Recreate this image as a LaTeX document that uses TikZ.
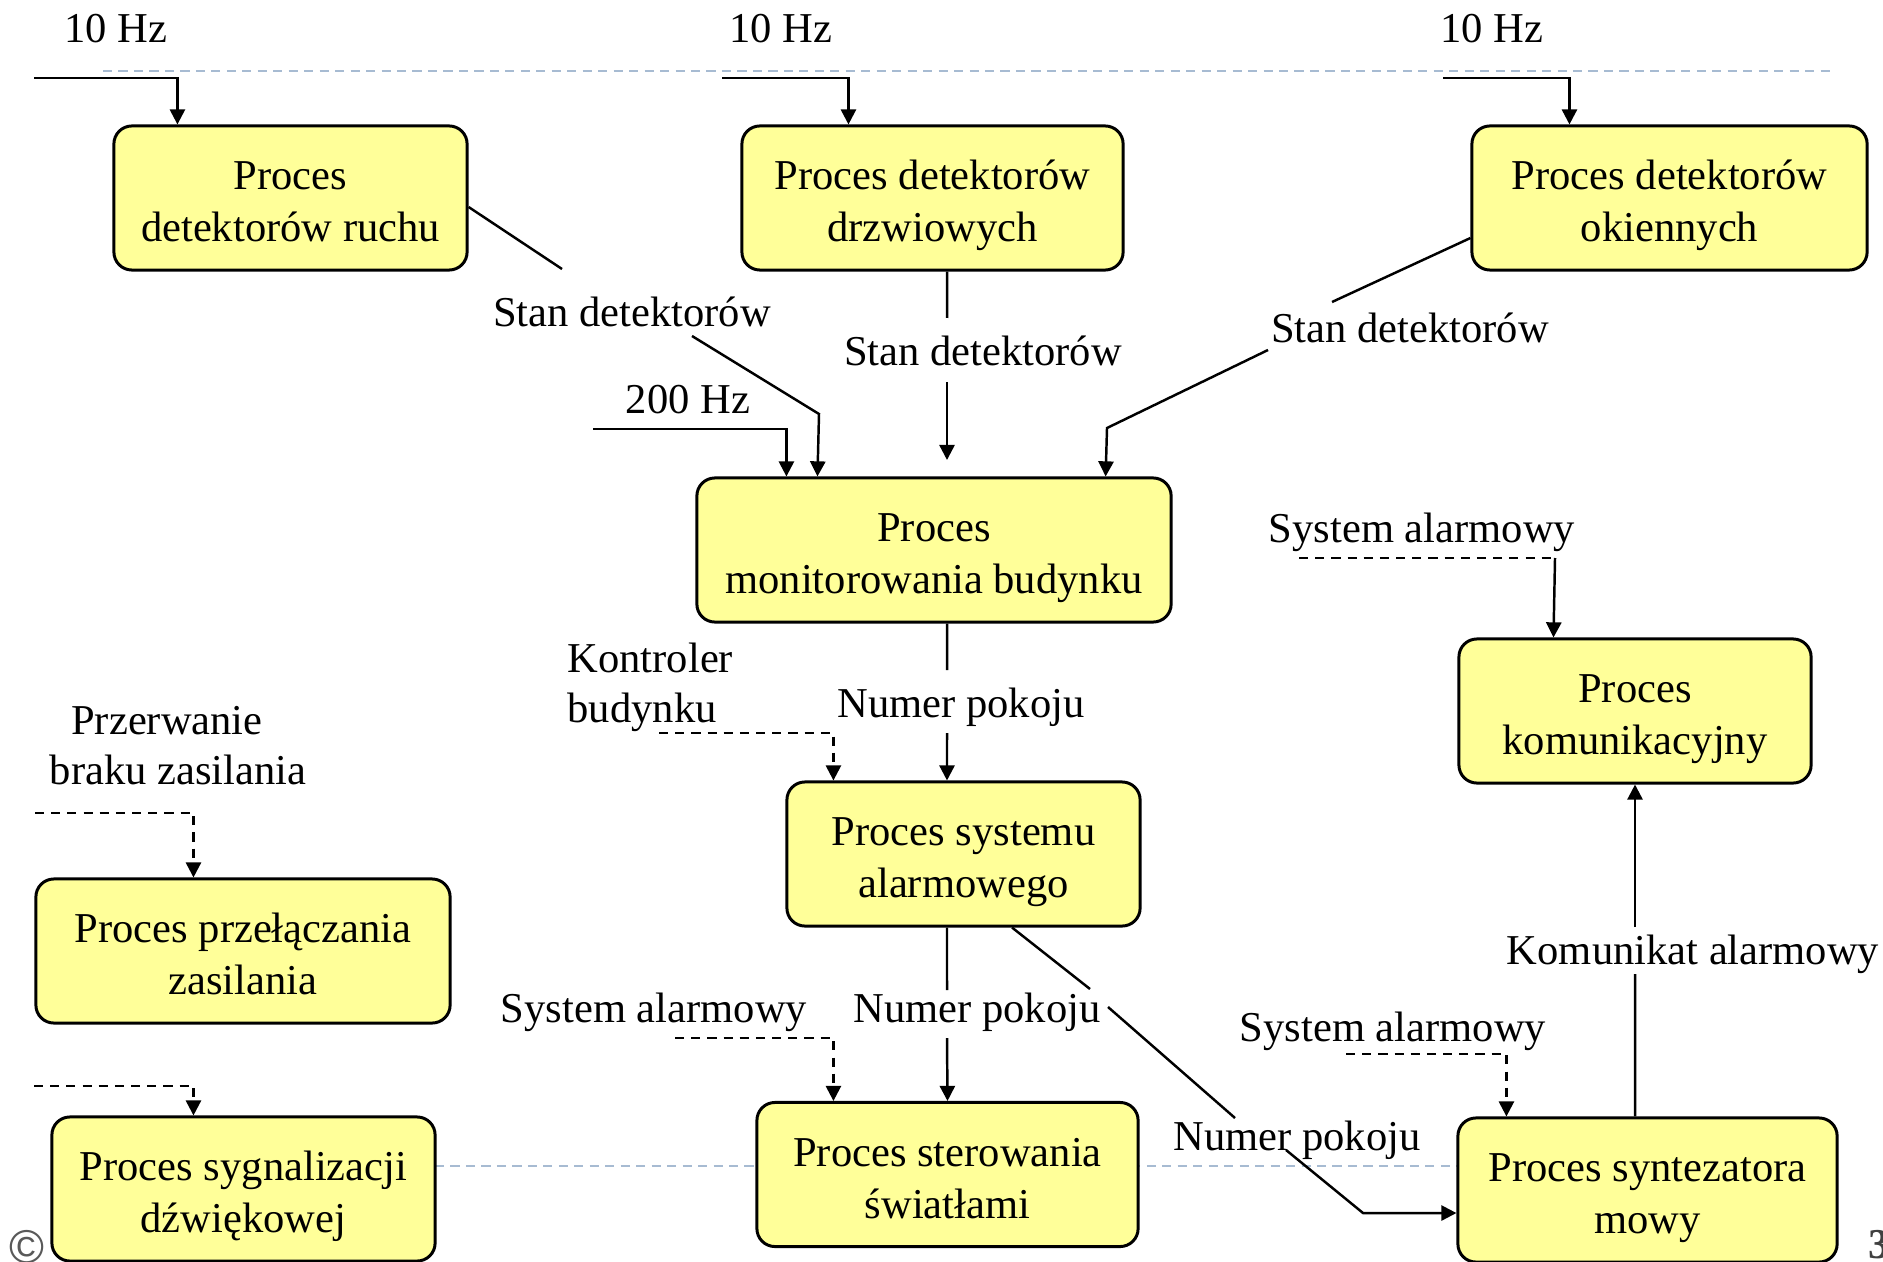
\documentclass[tikz,border=0pt]{standalone}
\usepackage{fontspec}
\setmainfont{Liberation Serif}
\newfontfamily\markfont{Liberation Sans}
\usetikzlibrary{arrows.meta}
\definecolor{procfill}{HTML}{FFFF99}
\definecolor{sepline}{HTML}{A7BBD2}
\begin{document}
\begin{tikzpicture}[x=0.01cm,y=-0.01cm,
  font=\fontsize{12.1}{14.7}\selectfont,
  proc/.style={draw=black, line width=0.85pt, fill=procfill, rounded corners=0.18cm,
    align=center, inner sep=0pt, minimum height=1.44cm,
    execute at begin node={\rule{0pt}{27.8pt}},
    execute at end node={\rule[-3pt]{0pt}{3pt}}},
  tip/.style={-{Triangle[length=4.3pt,width=4.3pt]}},
  plain/.style={line width=0.7pt},
  flow/.style={plain, tip},
  ctrl/.style={line width=0.7pt, dash pattern=on 2.6pt off 2pt},
  ctrlflow/.style={ctrl, tip},
  sep/.style={draw=sepline, line width=0.7pt, dash pattern=on 2.6pt off 1.8pt},
  lbl/.style={inner sep=0pt, anchor=base}]

\useasboundingbox (0,0) rectangle (1883,1261);

% light separators between the rate groups
\draw[sep] (103,71) -- (1831,71);
\draw[sep] (435,1166) -- (1458,1166);

% processes
\node[proc, minimum width=3.53cm] (ruch)    at (290.5,198)  {Proces\\detektorów ruchu};
\node[proc, minimum width=3.81cm] (drzwi)   at (932.5,198)  {Proces detektorów\\drzwiowych};
\node[proc, minimum width=3.95cm] (okna)    at (1669.5,198) {Proces detektorów\\okiennych};
\node[proc, minimum width=4.74cm] (monitor) at (934,550)    {Proces\\monitorowania budynku};
\node[proc, minimum width=3.52cm] (komunik) at (1635,711)   {Proces\\komunikacyjny};
\node[proc, minimum width=3.53cm] (alarm)   at (963.5,854)  {Proces systemu\\alarmowego};
\node[proc, minimum width=4.14cm] (zasil)   at (243,951)    {Proces przełączania\\zasilania};
\node[proc, minimum width=3.83cm] (dzwiek)  at (243.5,1189) {Proces sygnalizacji\\dźwiękowej};
\node[proc, minimum width=3.81cm] (swiatla) at (947.5,1174.5) {Proces sterowania\\światłami};
\node[proc, minimum width=3.79cm] (mowa)    at (1647.5,1190) {Proces syntezatora\\mowy};

% 10 Hz triggers
\coordinate (hzA) at (34,78);
\coordinate (hzB) at (722,78);
\coordinate (hzC) at (1443,78);
\draw[flow] (hzA) -| ([xshift=0.65cm]ruch.north west);
\draw[flow] (hzB) -| ([xshift=1.08cm]drzwi.north west);
\draw[flow] (hzC) -| ([xshift=0.99cm]okna.north west);
\node[lbl] (lhzA) at (116,43) {10 Hz};
\node[lbl] (lhzB) at (781,43) {10 Hz};
\node[lbl] (lhzC) at (1492,43) {10 Hz};

% 200 Hz trigger
\coordinate (hz200) at (593,429);
\draw[flow] (hz200) -| ([xshift=0.91cm]monitor.north west);
\node[lbl] (lhz200) at (688,413) {200 Hz};

% detector states into the monitor
\coordinate (r1) at (562,269);
\coordinate (r2) at (692,336);
\coordinate (r3) at (819,414);
\draw[plain] ([yshift=-0.09cm]ruch.east) -- (r1);
\draw[flow] (r2) -- (r3) -- ([xshift=1.22cm]monitor.north west);
\node[lbl] (lstA) at (632,327) {Stan detektorów};

\coordinate (d1) at (947,318);
\coordinate (d2) at (947,382);
\coordinate (d3) at (947,460);
\draw[plain] ([xshift=0.145cm]drzwi.south) -- (d1);
\draw[flow] (d2) -- (d3);
\node[lbl] (lstB) at (983,366) {Stan detektorów};

\coordinate (o1) at (1332,302);
\coordinate (o2) at (1268,350);
\coordinate (o3) at (1107,428);
\draw[plain] ([yshift=-0.4cm]okna.west) -- (o1);
\draw[flow] (o2) -- (o3) -- ([xshift=4.1cm]monitor.north west);
\node[lbl] (lstC) at (1410,342) {Stan detektorów};

% monitor -> alarm system
\coordinate (m1) at (947,670);
\coordinate (m2) at (947,733);
\draw[plain] ([xshift=0.13cm]monitor.south) -- (m1);
\draw[flow] (m2) -- ([xshift=-0.165cm]alarm.north);
\node[lbl] (lnpA) at (961,717) {Numer pokoju};

\coordinate (k1) at (659,733);
\draw[ctrlflow] (k1) -| ([xshift=0.48cm]alarm.north west);
\node[lbl, anchor=base west] (lkA) at (567,672) {Kontroler};
\node[lbl, anchor=base west] (lkB) at (567,722) {budynku};

% alarm system -> lights
\coordinate (a1) at (947,990);
\coordinate (a2) at (947,1038);
\draw[plain] ([xshift=-0.165cm]alarm.south) -- (a1);
\draw[flow] (a2) -- (swiatla.north);
\node[lbl] (lnpB) at (977,1022) {Numer pokoju};

\coordinate (sa1) at (675,1038);
\draw[ctrlflow] (sa1) -| ([xshift=0.78cm]swiatla.north west);
\node[lbl] (lsaA) at (654,1022) {System alarmowy};

% alarm system -> speech synthesiser
\coordinate (n1) at (1090,989);
\coordinate (n2) at (1108,1007);
\coordinate (n3) at (1235,1118);
\coordinate (n4) at (1286,1150);
\coordinate (n5) at (1363,1213);
\draw[plain] ([xshift=0.485cm]alarm.south) -- (n1);
\draw[plain] (n2) -- (n3);
\draw[flow] (n4) -- (n5) -- ([yshift=-0.23cm]mowa.west);
\node[lbl] (lnpC) at (1297,1150) {Numer pokoju};

\coordinate (sa2) at (1346,1054);
\draw[ctrlflow] (sa2) -| ([xshift=0.5cm]mowa.north west);
\node[lbl] (lsaB) at (1393,1041) {System alarmowy};

% speech synthesiser -> communication
\coordinate (c1) at (1635,974);
\coordinate (c2) at (1635,927);
\draw[plain] ([xshift=-0.125cm]mowa.north) -- (c1);
\draw[flow] (c2) -- (komunik.south);
\node[lbl] (lka) at (1693,964) {Komunikat alarmowy};

\coordinate (sa3) at (1299,558);
\coordinate (sa3c) at (1555,558);
\draw[ctrl] (sa3) -- (sa3c);
\draw[flow] (sa3c) -- ([xshift=0.96cm]komunik.north west);
\node[lbl] (lsaC) at (1422,542) {System alarmowy};

% power handling and sound signalling
\coordinate (p1) at (35,813);
\draw[ctrlflow] (p1) -| ([xshift=1.59cm]zasil.north west);
\node[lbl] (lpA) at (167,734) {Przerwanie};
\node[lbl] (lpB) at (178,784) {braku zasilania};

\coordinate (g1) at (34,1086);
\draw[ctrlflow] (g1) -| ([xshift=1.43cm]dzwiek.north west);

% footer marks
\node[lbl, anchor=base west, text=black!65, font=\fontsize{13.5}{16}\selectfont] (copy) at (9,1263) {\markfont ©};
\node[lbl, anchor=base west, text=black!75] (page) at (1868,1258) {\bfseries 3};
\end{tikzpicture}
\end{document}
